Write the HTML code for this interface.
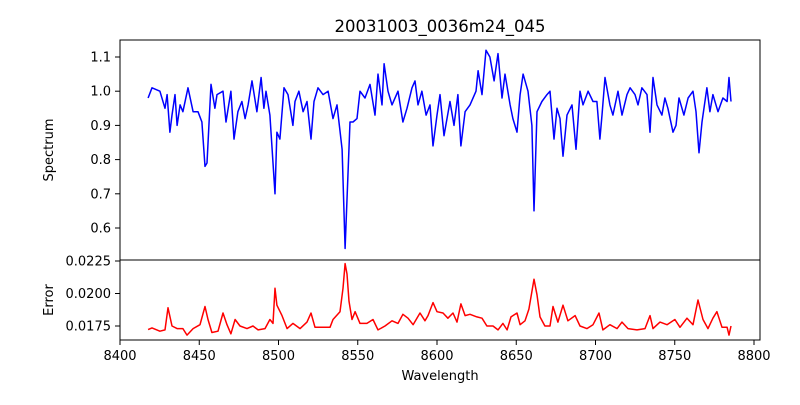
<!DOCTYPE html>
<html><head><meta charset="utf-8"><style>
body{margin:0;background:#fff;}
svg text{font-family:"DejaVu Sans","Liberation Sans",sans-serif;fill:#000;}
</style></head><body>
<svg id="chart" width="800" height="400" xmlns="http://www.w3.org/2000/svg">
<rect width="800" height="400" fill="#fff"/>
<text x="440" y="32" font-size="16.5" text-anchor="middle">20031003_0036m24_045</text>
<g id="g"></g>
<rect x="120" y="40" width="640" height="220" fill="none" stroke="#000" stroke-width="1"/>
<rect x="120" y="260" width="640" height="80" fill="none" stroke="#000" stroke-width="1"/>
<text transform="translate(53,150) rotate(-90)" font-size="13" text-anchor="middle">Spectrum</text>
<text transform="translate(53,300) rotate(-90)" font-size="13" text-anchor="middle">Error</text>
<text x="440" y="380" font-size="13" text-anchor="middle">Wavelength</text>
</svg>
<script>
const specWave=[8417.7,8420.2,8425.2,8428.4,8429.7,8431.5,8432.8,8434.7,8436.0,8437.9,8439.7,8442.9,8446.1,8449.2,8451.7,8453.6,8454.9,8457.4,8459.9,8461.2,8465.0,8466.9,8470.0,8471.9,8474.4,8476.9,8478.9,8480.8,8483.3,8486.4,8489.0,8490.8,8492.1,8494.6,8497.8,8499.0,8500.9,8503.5,8506.0,8509.1,8510.4,8512.9,8515.5,8518.0,8520.5,8522.4,8524.9,8528.1,8531.3,8534.4,8536.9,8540.1,8542.0,8545.1,8547.0,8549.5,8551.4,8554.6,8557.7,8560.9,8562.8,8565.3,8566.6,8569.1,8571.6,8575.4,8578.5,8581.1,8584.2,8586.1,8588.0,8590.5,8593.1,8595.6,8597.5,8600.0,8601.9,8604.4,8608.2,8610.7,8613.2,8615.1,8617.7,8620.8,8624.6,8625.9,8628.4,8630.9,8633.4,8636.0,8638.5,8641.0,8642.9,8646.1,8647.9,8650.5,8652.4,8654.3,8657.4,8659.9,8661.2,8663.1,8666.2,8669.4,8671.3,8673.8,8675.7,8677.6,8679.5,8682.0,8685.2,8687.7,8690.2,8692.1,8695.3,8698.4,8700.9,8702.8,8704.1,8706.0,8709.1,8711.0,8714.2,8716.7,8719.9,8721.8,8724.9,8726.8,8729.3,8732.5,8734.4,8736.3,8738.8,8741.9,8743.8,8745.7,8748.9,8750.8,8752.7,8755.8,8758.4,8761.5,8763.4,8765.3,8767.2,8770.3,8772.2,8774.1,8777.3,8780.4,8783.0,8784.2,8785.5];
const specVal=[0.98,1.01,1.0,0.95,0.99,0.88,0.93,0.99,0.90,0.96,0.94,1.01,0.94,0.94,0.91,0.78,0.79,1.02,0.95,0.99,1.0,0.91,1.0,0.86,0.94,0.97,0.92,0.96,1.03,0.94,1.04,0.95,1.0,0.93,0.70,0.88,0.86,1.01,0.99,0.90,0.97,1.0,0.94,0.97,0.86,0.97,1.01,0.99,1.0,0.92,0.96,0.83,0.54,0.91,0.91,0.92,1.0,0.98,1.02,0.93,1.05,0.96,1.08,1.0,0.96,1.0,0.91,0.95,1.01,1.03,0.96,1.0,0.93,0.96,0.84,0.93,0.99,0.87,0.97,0.90,0.99,0.84,0.94,0.96,1.0,1.06,0.99,1.12,1.10,1.03,1.11,0.98,1.05,0.96,0.92,0.88,0.99,1.05,1.0,0.90,0.65,0.94,0.97,0.99,1.0,0.86,0.95,0.92,0.81,0.93,0.96,0.83,1.0,0.96,1.0,0.97,0.97,0.86,0.93,1.04,0.96,0.93,1.0,0.93,0.99,1.01,0.99,0.96,1.01,0.99,0.88,1.04,0.96,0.93,0.98,0.95,0.88,0.90,0.98,0.93,0.98,1.0,0.94,0.82,0.91,1.01,0.94,0.99,0.94,0.98,0.97,1.04,0.97];
const errWave=[8417.7,8420.2,8425.2,8428.4,8430.3,8432.8,8436.0,8439.7,8442.3,8446.1,8450.5,8453.6,8455.5,8458.0,8461.8,8465.0,8467.5,8470.0,8472.6,8475.7,8480.1,8483.9,8487.1,8491.5,8494.6,8496.5,8497.8,8499.0,8502.2,8505.4,8509.1,8513.6,8518.0,8520.5,8523.0,8528.1,8532.5,8534.4,8538.8,8540.7,8542.0,8543.2,8544.5,8546.4,8548.3,8551.4,8555.8,8559.6,8562.8,8567.2,8571.6,8575.4,8578.5,8581.7,8584.9,8589.3,8592.4,8594.3,8597.5,8600.0,8603.8,8606.9,8610.1,8612.6,8615.1,8617.7,8620.8,8625.2,8628.4,8631.5,8635.3,8638.5,8641.6,8644.2,8646.7,8650.5,8652.4,8655.5,8658.0,8661.2,8663.1,8665.0,8668.1,8671.3,8673.2,8676.3,8679.5,8682.6,8687.1,8690.2,8694.6,8698.4,8702.2,8704.7,8709.1,8713.6,8716.7,8720.5,8726.2,8731.2,8734.4,8736.3,8740.7,8745.1,8750.1,8753.3,8757.7,8761.5,8764.7,8767.8,8771.0,8774.1,8776.6,8779.8,8783.0,8784.2,8785.5];
const errVal=[0.01722,0.01735,0.0171,0.0172,0.0189,0.0175,0.0173,0.0173,0.0168,0.0173,0.0176,0.0190,0.0180,0.0170,0.0171,0.0185,0.0176,0.0169,0.0180,0.0175,0.0173,0.0175,0.0172,0.0173,0.0180,0.0177,0.0204,0.0191,0.0183,0.0173,0.0177,0.0173,0.0178,0.0185,0.0174,0.0174,0.0174,0.0180,0.0186,0.0204,0.0223,0.0215,0.0194,0.0180,0.0186,0.0177,0.0177,0.0180,0.0172,0.0175,0.0179,0.0177,0.0184,0.0181,0.0176,0.0185,0.0179,0.0183,0.0193,0.0186,0.0185,0.0181,0.0185,0.0178,0.0192,0.0183,0.0184,0.0182,0.0181,0.0175,0.0175,0.0172,0.0177,0.0172,0.0182,0.0185,0.0176,0.0179,0.0188,0.0211,0.0199,0.0182,0.0175,0.0175,0.0190,0.0178,0.0191,0.0179,0.0183,0.0175,0.0173,0.0176,0.0185,0.0172,0.0176,0.0173,0.0178,0.0173,0.0172,0.0173,0.0183,0.0173,0.0178,0.0176,0.0180,0.0174,0.0181,0.0176,0.0195,0.0180,0.0173,0.0181,0.0186,0.0174,0.0174,0.0168,0.0175];
const xTicks=[8400,8450,8500,8550,8600,8650,8700,8750,8800];
const specTicks=[0.6,0.7,0.8,0.9,1.0,1.1];
const errTicks=[0.0175,0.0200,0.0225];
const errTickLabels=["0.0175","0.0200","0.0225"];

const NS="http://www.w3.org/2000/svg";
const g=document.getElementById('g');
const X=w=>120+(w-8400)*1.585;
const YS=v=>57+(1.1-v)*342;
const YE=v=>326-(v-0.0175)*13000;
function mk(tag,attrs){const e=document.createElementNS(NS,tag);for(const k in attrs)e.setAttribute(k,attrs[k]);g.appendChild(e);return e;}

xTicks.forEach(t=>{
  const l=mk('line',{x1:X(t),x2:X(t),y1:340,y2:345,stroke:'#000'});
  
  
  const tx=mk('text',{x:X(t),y:360,'font-size':13,'text-anchor':'middle'});
  tx.textContent=t;
  
  
});
specTicks.forEach(t=>{
  const l=mk('line',{x1:115,x2:120,y1:YS(t),y2:YS(t),stroke:'#000'});
  
  
  const tx=mk('text',{x:111,y:YS(t)+4.5,'font-size':13,'text-anchor':'end'});
  tx.textContent=t.toFixed(1);
  
  
});
errTicks.forEach((t,i)=>{
  const l=mk('line',{x1:115,x2:120,y1:YE(t),y2:YE(t),stroke:'#000'});
  
  
  const tx=mk('text',{x:111,y:YE(t)+4.5,'font-size':13,'text-anchor':'end'});
  tx.textContent=errTickLabels[i];
  
  
});
const sp=mk('polyline',{points:specWave.map((w,i)=>X(w).toFixed(1)+','+YS(specVal[i]).toFixed(1)).join(' '),fill:'none',stroke:'#0000ff','stroke-width':1.5,'stroke-linejoin':'round'});


const er=mk('polyline',{points:errWave.map((w,i)=>X(w).toFixed(1)+','+YE(errVal[i]).toFixed(1)).join(' '),fill:'none',stroke:'#ff0000','stroke-width':1.5,'stroke-linejoin':'round'});


</script>
</body></html>
